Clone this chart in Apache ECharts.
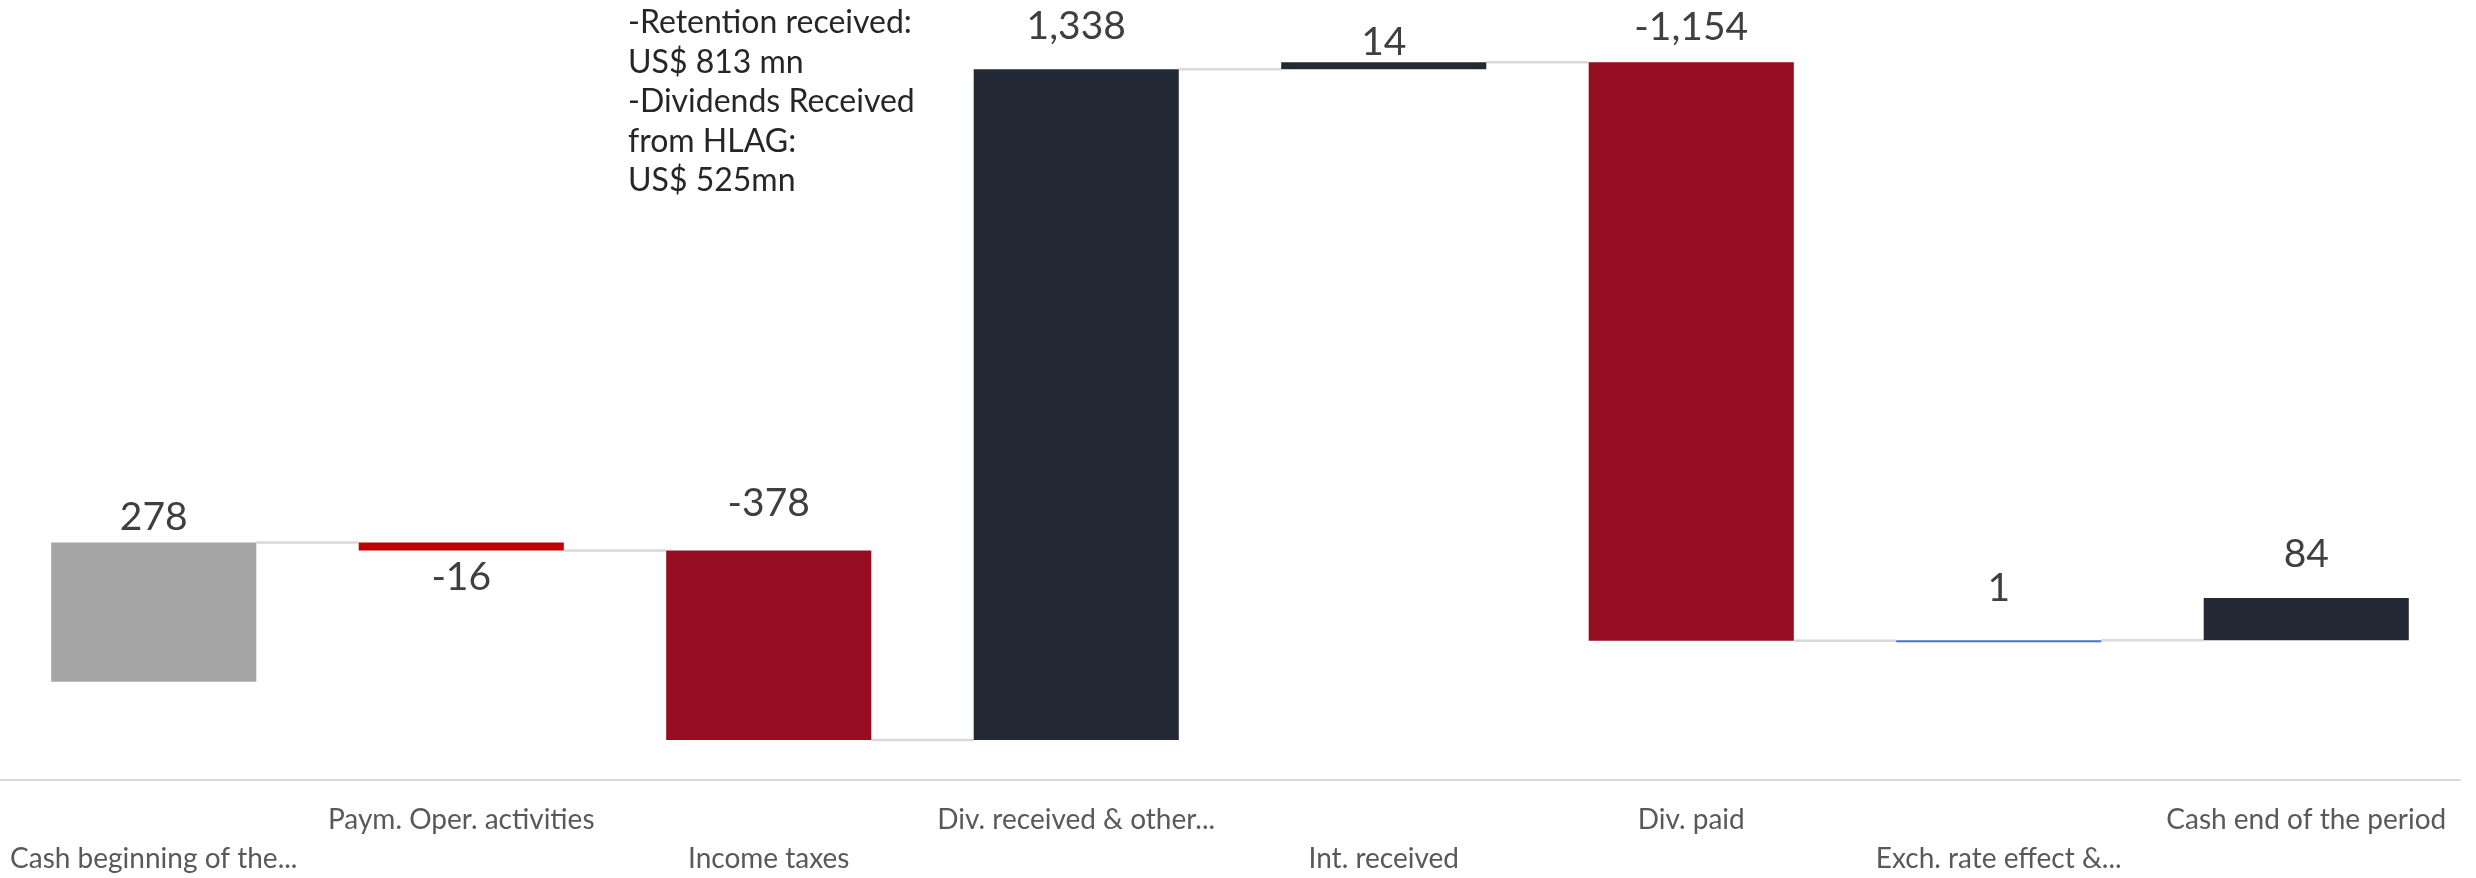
<!DOCTYPE html>
<html>
<head>
<meta charset="utf-8">
<script src="https://cdn.jsdelivr.net/npm/echarts@6/dist/echarts.min.js"></script>
<style>
  html, body { margin: 0; padding: 0; background: #fff; }
  #chart { width: 2476px; height: 878px; }
</style>
</head>
<body>
<div id="chart"></div>
<script>
// waterfall data, US$ mn
const categories = [
  'Cash beginning of the...',
  'Paym. Oper. activities',
  'Income taxes',
  'Div. received & other...',
  'Int. received',
  'Div. paid',
  'Exch. rate effect &...',
  'Cash end of the period'
]
const changes = [278, -16, -378, 1338, 14, -1154, 1, 84]
const noteLines = [
  '-Retention received:',
  'US$ 813 mn',
  '-Dividends Received',
  'from HLAG:',
  'US$ 525mn'
]

// styling per bar
const barColors = ['#A6A6A6', '#C00000', '#960C20', '#232A35', '#232A35', '#960C20', '#4472C4', '#232A35']
const labelBelow = [false, true, false, false, false, false, false, false]
const labelOffset = [25, 27, 47, 43, 20, 35, 52, 44]

// running totals -> floating bars
const bars = []
const connectors = []
let level = 0
changes.forEach((c, i) => {
  const next = level + c
  bars.push([i, Math.min(level, next), Math.max(level, next), c])
  if (i < changes.length - 1) connectors.push([i, next])
  level = next
})

const fmt = v => v.toLocaleString('en-US')

const chart = echarts.init(document.getElementById('chart'))
chart.setOption({
  animation: false,
  grid: { left: 0, right: 16, top: 0, bottom: 94 },
  xAxis: {
    type: 'category',
    data: categories,
    axisLine: { onZero: false, lineStyle: { color: '#D9D9D9', width: 2 } },
    axisTick: { show: false },
    axisLabel: {
      interval: 0,
      hideOverlap: false,
      margin: 20,
      color: '#595959',
      fontFamily: 'Lato',
      fontSize: 28,
      lineHeight: 39,
      formatter: (v, i) => (i % 2 === 0 ? '\n' + v : v)
    }
  },
  yAxis: {
    type: 'value',
    min: -196,
    max: 1360,
    show: false,
    splitLine: { show: false }
  },
  graphic: [{
    type: 'text',
    left: 628,
    top: 3,
    style: {
      text: noteLines.join('\n'),
      font: '32px Lato',
      fill: '#262626',
      lineHeight: 39.5
    }
  }],
  series: [
    {
      type: 'custom',
      z: 1,
      data: connectors,
      encode: { x: 0, y: 1 },
      renderItem: (params, api) => {
        const i = api.value(0)
        const v = api.value(1)
        const w = api.size([1, 0])[0] * 0.667
        const a = api.coord([i, v])
        const b = api.coord([i + 1, v])
        return {
          type: 'line',
          shape: { x1: a[0] + w / 2, y1: a[1], x2: b[0] - w / 2, y2: b[1] },
          style: { stroke: '#D9D9D9', lineWidth: 2.5 }
        }
      }
    },
    {
      type: 'custom',
      z: 2,
      data: bars,
      encode: { x: 0, y: [1, 2] },
      renderItem: (params, api) => {
        const i = api.value(0)
        const top = api.coord([i, api.value(2)])
        const bottom = api.coord([i, api.value(1)])
        const w = api.size([1, 0])[0] * 0.667
        const h = Math.max(bottom[1] - top[1], 2)
        const below = labelBelow[i]
        const ty = below ? top[1] + h + labelOffset[i] : top[1] - labelOffset[i]
        return {
          type: 'group',
          children: [
            {
              type: 'rect',
              shape: { x: top[0] - w / 2, y: top[1], width: w, height: h },
              style: { fill: barColors[i] }
            },
            {
              type: 'text',
              x: top[0],
              y: ty,
              style: {
                text: fmt(api.value(3)),
                font: '39px Lato',
                fill: '#3F3F3F',
                align: 'center',
                verticalAlign: 'middle'
              }
            }
          ]
        }
      }
    }
  ]
})
</script>
</body>
</html>
